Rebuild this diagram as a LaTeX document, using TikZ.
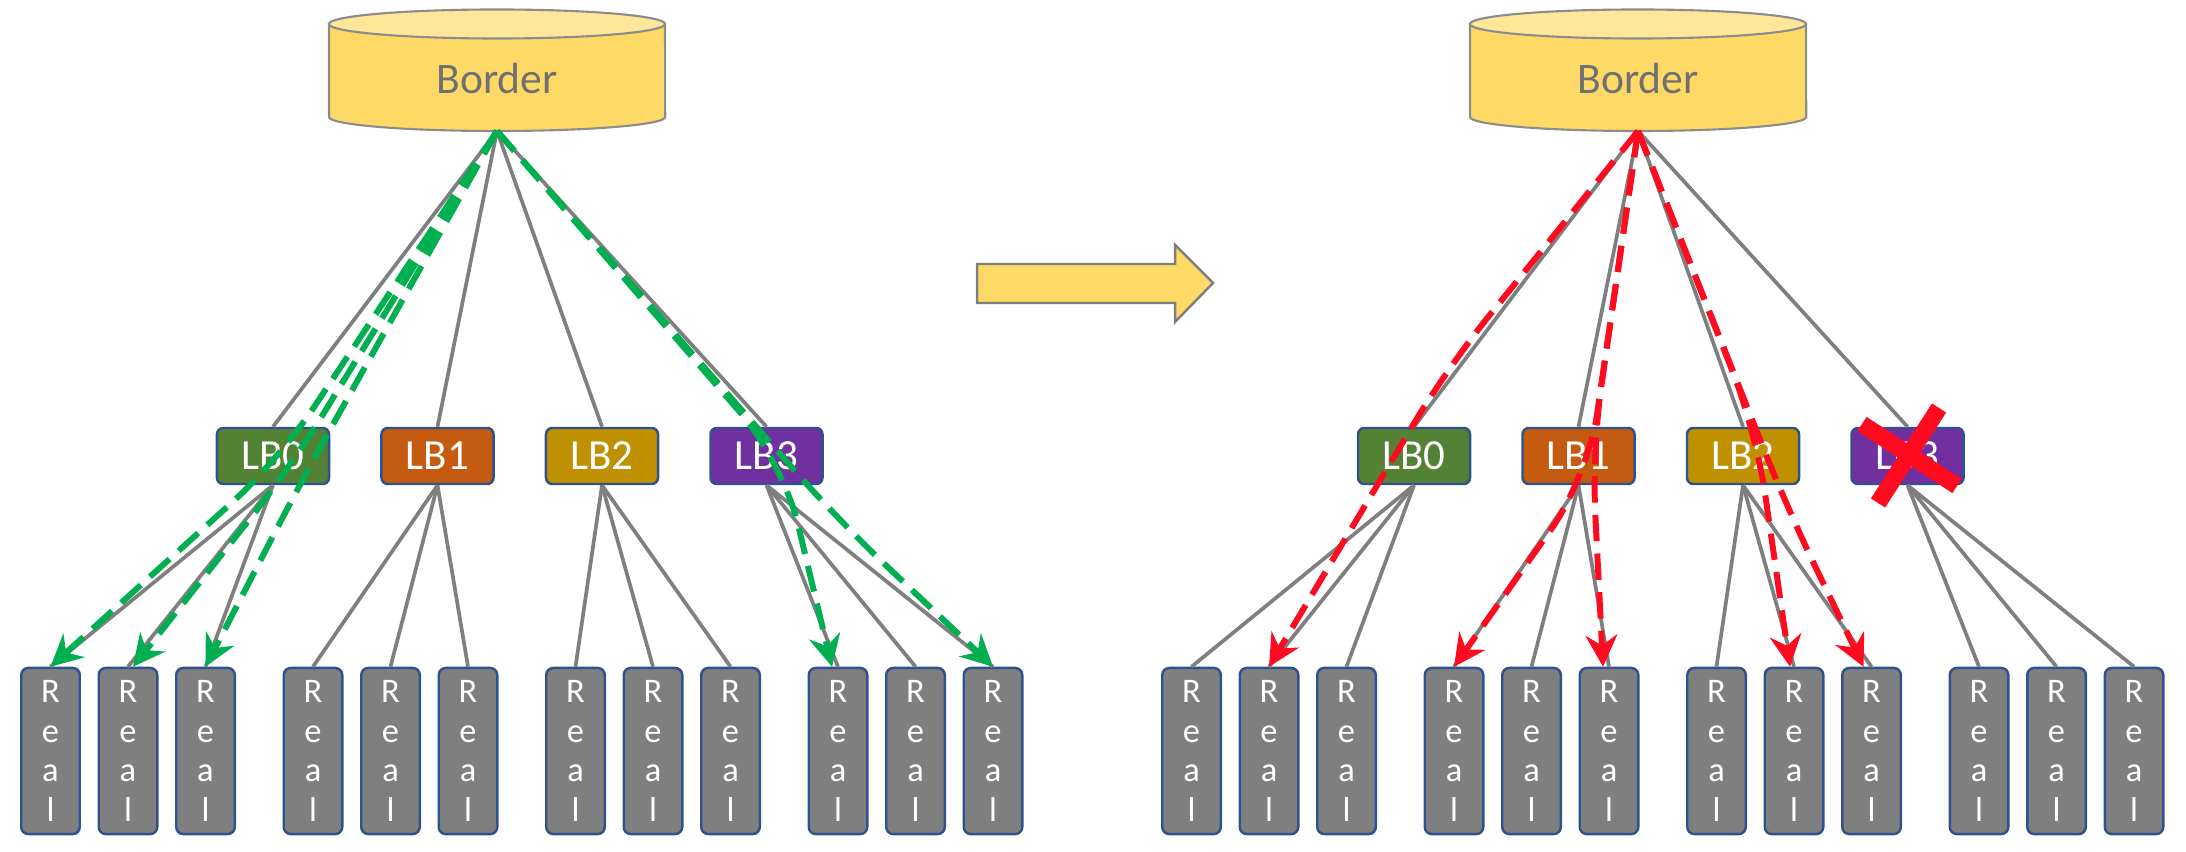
\documentclass[tikz,border=0pt]{standalone}
\usepackage{fontspec}
\setmainfont{Carlito}
\usepackage{xcolor}
\usetikzlibrary{arrows.meta,positioning}
\definecolor{cylfill}{HTML}{FFD966}
\definecolor{cyltop}{HTML}{FFE699}
\definecolor{cylline}{HTML}{8C8C8C}
\definecolor{boxline}{HTML}{2F528F}
\definecolor{lbzero}{HTML}{548235}
\definecolor{lbone}{HTML}{C55A11}
\definecolor{lbtwo}{HTML}{BF9000}
\definecolor{lbthree}{HTML}{7030A0}
\definecolor{linkgray}{HTML}{7F7F7F}
\definecolor{bordertext}{HTML}{707070}
\definecolor{okgreen}{HTML}{00B050}
\definecolor{failred}{HTML}{FF0A1E}
\tikzset{
    lbbox/.style={draw=boxline,line width=0.7pt,rounded corners=1.8pt,minimum width=1.12cm,minimum height=0.56cm,inner sep=0pt,text=white,font=\fontsize{12.2}{14}\selectfont},
    realbox/.style={draw=boxline,line width=0.7pt,fill=linkgray,rounded corners=2pt,minimum width=0.585cm,minimum height=1.66cm,inner sep=0pt,text=white,align=center,font=\fontsize{9.8}{11.2}\selectfont},
    link/.style={draw=linkgray,line width=1.05pt},
    flow/.style={-{Stealth[length=9pt,width=9pt,inset=3pt]},line width=1.7pt,dash pattern=on 7.5pt off 3.5pt,rounded corners=18pt}
}

\begin{document}
\begin{tikzpicture}[x=0.01cm,y=-0.01cm]
  \useasboundingbox (0,0) rectangle (2186,852);

  % the same tree, before and after
  \foreach \side/\off in {l/0,r/1141} {
    \draw[draw=cylline,fill=cylfill,line width=0.6pt] ({329+\off},24) -- ({329+\off},117)
      arc[start angle=180,end angle=360,x radius=1.68cm,y radius=0.14cm] -- ({665+\off},24) -- cycle;
    \draw[draw=cylline,fill=cyltop,line width=0.6pt] ({497+\off},24) ellipse [x radius=1.68cm,y radius=0.145cm];
    \node[text=bordertext,font=\fontsize{12.4}{14}\selectfont] (\side Border) at ({497+\off},79) {Border};
    \coordinate (\side B) at ({497+\off},131);
    \foreach \g/\c in {0/lbzero,1/lbone,2/lbtwo,3/lbthree} {
      \node[lbbox,fill=\c] (\side L\g) at ({273+164.5*\g+\off},456) {LB\g};
      \draw[link] (\side B) -- (\side L\g.north);
      \foreach \m in {0,1,2} {
        \node[realbox] (\side R\g\m) at ({50.5+262.5*\g+77.5*\m+\off},751) {R\\e\\a\\l};
        \draw[link] (\side L\g.south) -- (\side R\g\m.north);
      }
    }
  }

  \draw[draw=linkgray,fill=cylfill,line width=0.7pt] (977,264) -- (1175,264) -- (1175,245) -- (1213,283)
    -- (1175,322) -- (1175,303) -- (977,303) -- cycle;

  % traffic through every LB
  \draw[flow,okgreen] (lB) -- (279,460) -- (lR00.north);
  \draw[flow,okgreen] (lB) -- (290,468) -- ([xshift=0.05cm]lR01.north);
  \draw[flow,okgreen] (lB) -- (303,478) -- (lR02.north);
  \draw[flow,okgreen] (lB) -- (783,462) -- ([xshift=-0.06cm]lR30.north);
  \draw[flow,okgreen] (lB) -- (838,520) -- (lR32.north);

  % LB3 gone
  \draw[flow,failred] (rB) -- (1447,368) -- (rR01.north);
  \draw[flow,failred] (rB) -- (1588,477) -- (rR10.north);
  \draw[flow,failred] (rB) -- (1592,450) -- ([xshift=-0.06cm]rR12.north);
  \draw[flow,failred] (rB) -- (1756,431) -- ([xshift=-0.04cm]rR21.north);
  \draw[flow,failred] (rB) -- (1787,508) -- ([xshift=-0.08cm]rR22.north);
  \draw[failred,line width=4.8pt] (1862,424) -- (1957,486) (1939,408) -- (1878,503);
\end{tikzpicture}
\end{document}
